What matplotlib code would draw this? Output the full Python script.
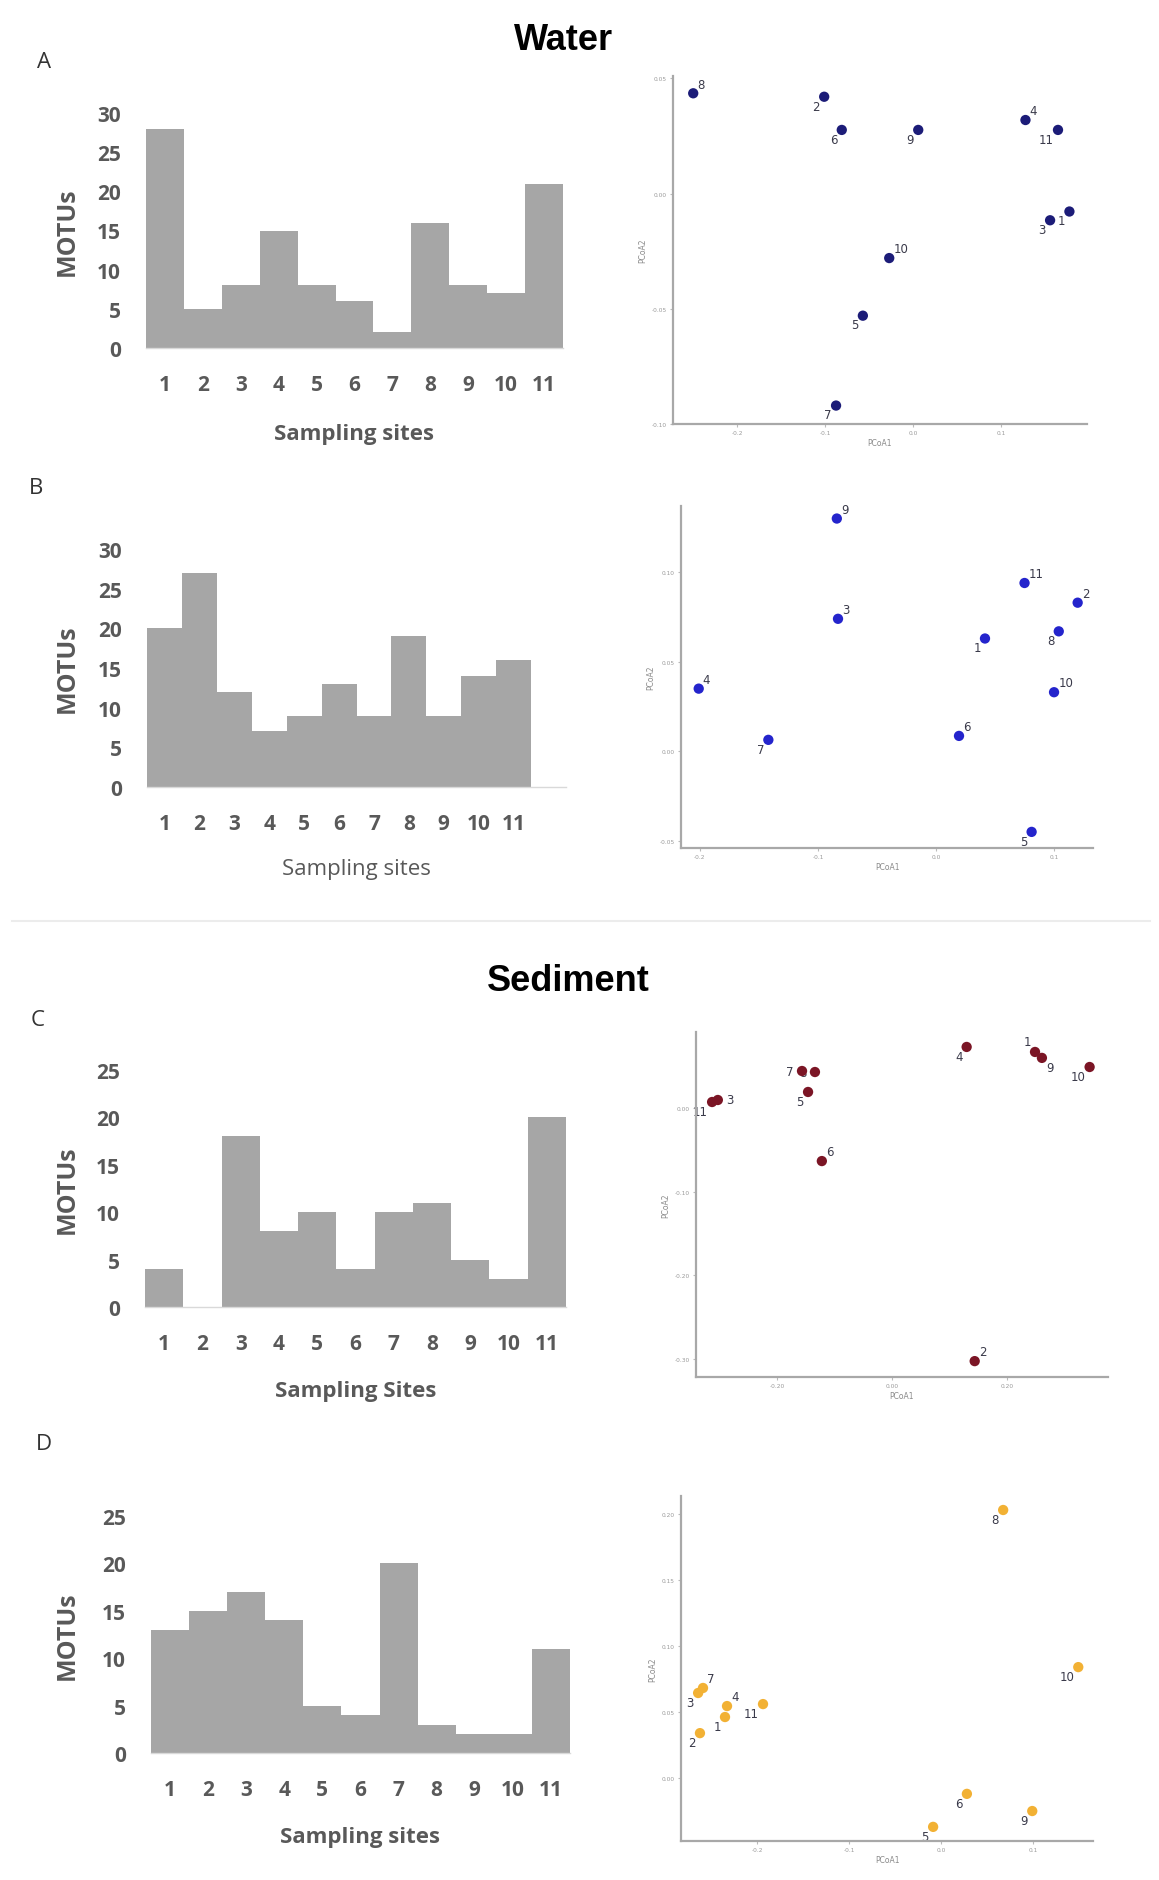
import numpy as np
import matplotlib
matplotlib.use("Agg")
import matplotlib.pyplot as plt
from matplotlib.lines import Line2D

# ---------------- data ----------------
sites = ["1", "2", "3", "4", "5", "6", "7", "8", "9", "10", "11"]

motus_A = [28, 5, 8, 15, 8, 6, 2, 16, 8, 7, 21]
motus_B = [20, 27, 12, 7, 9, 13, 9, 19, 9, 14, 16]
motus_C = [4, 0, 18, 8, 10, 4, 10, 11, 5, 3, 20]
motus_D = [13, 15, 17, 14, 5, 4, 20, 3, 2, 2, 11]

pc1_A = [0.178, -0.101, 0.156, 0.128, -0.057, -0.081, -0.0875, -0.25, 0.006, -0.027, 0.165]
pc2_A = [-0.0078, 0.042, -0.0116, 0.0319, -0.053, 0.0276, -0.092, 0.0435, 0.0276, -0.028, 0.0276]

pc1_B = [0.0415, 0.120, -0.083, -0.201, 0.081, 0.0195, -0.142, 0.104, -0.084, 0.100, 0.075]
pc2_B = [0.063, 0.083, 0.074, 0.035, -0.045, 0.0086, 0.0064, 0.067, 0.130, 0.033, 0.094]

pc1_C = [0.249, 0.144, -0.303, 0.130, -0.146, -0.122, -0.1565, -0.134, 0.261, 0.344, -0.313]
pc2_C = [0.0671, -0.303, 0.0096, 0.0731, 0.0192, -0.0635, 0.0443, 0.0431, 0.060, 0.0491, 0.0072]

pc1_D = [-0.2348, -0.262, -0.264, -0.2326, -0.0087, 0.028, -0.2587, 0.0674, 0.099, 0.149, -0.1935]
pc2_D = [0.0462, 0.034, 0.0644, 0.0545, -0.037, -0.012, 0.0682, 0.203, -0.025, 0.084, 0.056]

# label placement (style)
dirs_A = ["ll", "ll", "ll", "ur", "ll", "ll", "ll", "ur", "ll", "ur", "ll"]
dirs_B = ["ll", "ur", "ur", "ur", "ll", "ur", "ll", "ll", "ur", "ur", "ur"]
dirs_C = ["ul", "ur", "r", "ll", "ll", "ur", "l", "l", "lr", "ll", "ll"]
dirs_D = ["ll", "ll", "ll", "ur", "ll", "ll", "ur", "ll", "ll", "ll", "ll"]

# ---------------- figure ----------------
W, H = 1159, 1881
fig = plt.figure(figsize=(W / 100, H / 100), dpi=100)
fig.patch.set_facecolor("white")

FONT = ["Open Sans", "DejaVu Sans"]
GRAY_TXT = "#595959"
BAR_COL = "#a6a6a6"


def rect(l, t, r, b):
    return [l / W, 1 - b / H, (r - l) / W, (b - t) / H]


def bar_panel(box, values, ymax, xmax, xlabel, xlab_y, bold_xlabel=True):
    ax = fig.add_axes(rect(*box))
    x = np.arange(1, len(values) + 1)
    ax.bar(x, values, width=1.0, color=BAR_COL, edgecolor="none")
    ax.set_xlim(0.5, xmax)
    ax.set_ylim(0, ymax)
    ax.set_yticks(np.arange(0, ymax + 1, 5))
    ax.set_xticks(x)
    ax.set_xticklabels(sites)
    for s in ["top", "right", "left"]:
        ax.spines[s].set_visible(False)
    ax.spines["bottom"].set_color("#d9d9d9")
    ax.spines["bottom"].set_linewidth(1.0)
    ax.tick_params(axis="y", length=0, pad=18, labelsize=15, labelcolor=GRAY_TXT)
    ax.tick_params(axis="x", length=0, pad=19, labelsize=15, labelcolor=GRAY_TXT)
    for lab in ax.get_xticklabels() + ax.get_yticklabels():
        lab.set_family(FONT)
        lab.set_fontweight("bold")
    ax.set_xlabel(xlabel, fontsize=16, color=GRAY_TXT, family=FONT,
                  fontweight="bold" if bold_xlabel else "normal")
    ax.xaxis.set_label_coords(0.5, xlab_y)
    ax.set_ylabel("MOTUs", fontsize=18, color=GRAY_TXT, family=FONT, fontweight="bold")
    ax.yaxis.set_label_coords((67 - box[0]) / (box[2] - box[0]), 0.5)
    ax.yaxis.label.set_verticalalignment("center")
    return ax


OFFS = {
    "ur": ((3, 2), "left", "bottom"),
    "ll": ((-3, -2), "right", "top"),
    "ul": ((-3, 3), "right", "bottom"),
    "lr": ((3, -2), "left", "top"),
    "r": ((6, 0), "left", "center"),
    "l": ((-6, 0), "right", "center"),
}


def pcoa_panel(box, xs, ys, dirs, color, xlim, ylim, xticks, yticks, xfmt, yfmt):
    ax = fig.add_axes(rect(*box))
    ax.scatter(xs, ys, s=55, color=color, edgecolors="none", zorder=3, clip_on=False)
    for xv, yv, lab, d in zip(xs, ys, sites, dirs):
        off, ha, va = OFFS[d]
        ax.annotate(lab, (xv, yv), xytext=off, textcoords="offset points",
                    ha=ha, va=va, fontsize=8.5, color="#3a3a4a", zorder=2,
                    family=["DejaVu Sans"])
    ax.set_xlim(*xlim)
    ax.set_ylim(*ylim)
    ax.set_xticks(xticks)
    ax.set_yticks(yticks)
    ax.set_xticklabels([xfmt.format(v) for v in xticks])
    ax.set_yticklabels([yfmt.format(v) for v in yticks])
    for s in ["top", "right"]:
        ax.spines[s].set_visible(False)
    for s in ["left", "bottom"]:
        ax.spines[s].set_color("#a8a8a8")
        ax.spines[s].set_linewidth(1.6)
    ax.tick_params(length=2.5, width=0.8, color="#bbbbbb", labelsize=4.2,
                   labelcolor="#9a9a9a", pad=2)
    ax.set_xlabel("PCoA1", fontsize=5.5, color="#8a8a8a", labelpad=2)
    ax.set_ylabel("PCoA2", fontsize=5.5, color="#8a8a8a", labelpad=3)
    return ax


# ---------------- titles / letters ----------------
fig.text(564 / W, 1 - 40 / H, "Water", ha="center", va="center",
         fontsize=26, fontweight="bold", family=["Liberation Sans", "DejaVu Sans"])
fig.text(568 / W, 1 - 982 / H, "Sediment", ha="center", va="center",
         fontsize=26, fontweight="bold", family=["Liberation Sans", "DejaVu Sans"])
for letter, (lx, ly) in zip("ABCD", [(44, 63), (36, 488), (38, 1020), (44, 1445)]):
    fig.text(lx / W, 1 - ly / H, letter, ha="center", va="center",
             fontsize=16, color="#333333", family=FONT)

fig.add_artist(Line2D([12 / W, 1150 / W], [1 - 922 / H, 1 - 922 / H],
                      color="#ececec", linewidth=1.5))

# ---------------- bar panels ----------------
bar_panel((146, 114, 563, 349), motus_A, 30, 11.5, "Sampling sites", -0.32)
bar_panel((147, 550, 566, 788), motus_B, 30, 12.5, "Sampling sites", -0.30, bold_xlabel=False)
bar_panel((145, 1071, 566, 1308), motus_C, 25, 11.5, "Sampling Sites", -0.31)
bar_panel((151, 1517, 570, 1754), motus_D, 25, 11.5, "Sampling sites", -0.31)

# ---------------- PCoA panels ----------------
pcoa_panel((673, 77, 1087, 425), pc1_A, pc2_A, dirs_A, "#1c1c78",
           (-0.273, 0.198), (-0.100, 0.051),
           [-0.2, -0.1, 0.0, 0.1], [-0.10, -0.05, 0.00, 0.05], "{:.1f}", "{:.2f}")
pcoa_panel((681, 507, 1093, 849), pc1_B, pc2_B, dirs_B, "#2424cc",
           (-0.216, 0.133), (-0.054, 0.137),
           [-0.2, -0.1, 0.0, 0.1], [-0.05, 0.00, 0.05, 0.10], "{:.1f}", "{:.2f}")
pcoa_panel((696, 1033, 1108, 1378), pc1_C, pc2_C, dirs_C, "#7b1525",
           (-0.341, 0.376), (-0.322, 0.091),
           [-0.2, 0.0, 0.2], [-0.3, -0.2, -0.1, 0.0], "{:.2f}", "{:.2f}")
pcoa_panel((681, 1497, 1093, 1842), pc1_D, pc2_D, dirs_D, "#f2b134",
           (-0.2826, 0.165), (-0.0477, 0.2136),
           [-0.2, -0.1, 0.0, 0.1], [0.00, 0.05, 0.10, 0.15, 0.20], "{:.1f}", "{:.2f}")

fig.savefig("out.png", dpi=100, facecolor="white")
